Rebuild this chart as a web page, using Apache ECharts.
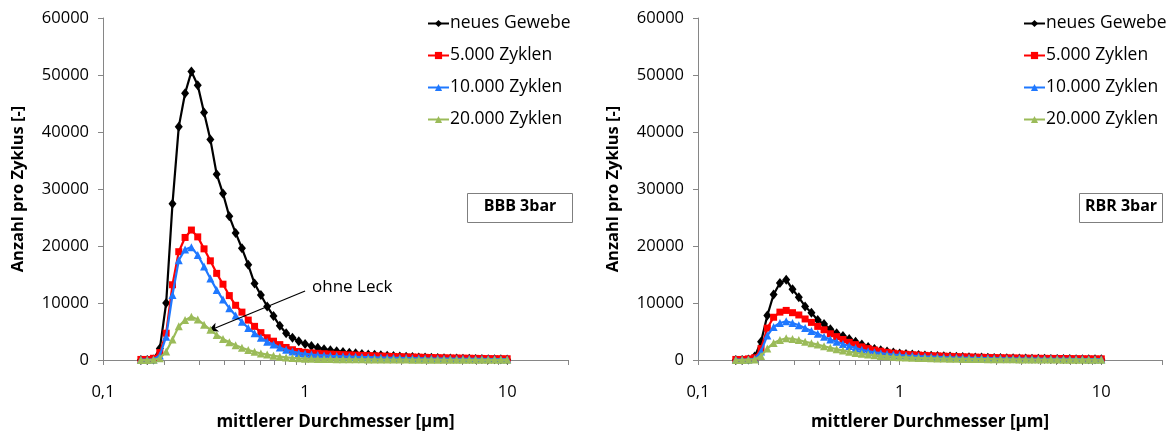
<!DOCTYPE html>
<html>
<head>
<meta charset="utf-8">
<script src="https://cdn.jsdelivr.net/npm/echarts@6/dist/echarts.min.js"></script>
<style>
  html, body { margin: 0; padding: 0; background: #ffffff; }
  #chart { width: 1176px; height: 433px; }
</style>
</head>
<body>
<div id="chart"></div>
<script>
// Mean particle diameter per size channel [µm] (32 channels per decade)
const diameters = [
  0.1540, 0.1655, 0.1778, 0.1911, 0.2054, 0.2207, 0.2371, 0.2548, 0.2738, 0.2943,
  0.3162, 0.3398, 0.3652, 0.3924, 0.4217, 0.4532, 0.4870, 0.5233, 0.5623, 0.6043,
  0.6494, 0.6978, 0.7499, 0.8058, 0.8660, 0.9306, 1.000, 1.075, 1.155, 1.241,
  1.334, 1.433, 1.540, 1.655, 1.778, 1.911, 2.054, 2.207, 2.371, 2.548,
  2.738, 2.943, 3.162, 3.398, 3.652, 3.924, 4.217, 4.532, 4.870, 5.233,
  5.623, 6.043, 6.494, 6.978, 7.499, 8.058, 8.660, 9.306, 10.00
];

const seriesNames = ['neues Gewebe', '5.000 Zyklen', '10.000 Zyklen', '20.000 Zyklen'];

// BBB 3bar – counts per cycle
const bbbNeu = [
  0, 0, 100, 2000, 10000, 27400, 40900, 46800, 50600, 48200,
  43400, 38700, 32600, 29200, 25200, 22300, 19600, 16700, 13400, 11400,
  9400, 7700, 6000, 4700, 3900, 3300,
  2800, 2450, 2150, 1900, 1700, 1550, 1400, 1280, 1170, 1070,
  980, 900, 820, 750, 680, 620, 560, 510, 460, 420,
  380, 340, 310, 280, 250, 220, 200, 180, 160, 140,
  120, 110, 100
];
const bbb5000 = [
  100, 100, 300, 1300, 4700, 13200, 19000, 21500, 22800, 21600,
  19500, 17400, 15200, 13300, 11300, 9600, 8400, 7000, 5900, 4800,
  3900, 3300, 2700, 2200, 1800, 1500,
  1350, 1250, 1170, 1100, 1040, 990, 940, 900, 860, 820,
  780, 740, 700, 660, 620, 590, 560, 530, 500, 470,
  440, 410, 390, 370, 350, 330, 310, 290, 270, 250,
  240, 230, 220
];
const bbb10000 = [
  50, 50, 100, 800, 4100, 11400, 17500, 19400, 19800, 18400,
  16400, 14300, 12300, 10600, 9100, 7800, 6700, 5600, 4700, 3900,
  3200, 2700, 2200, 1800, 1500, 1250,
  1080, 960, 870, 800, 740, 690, 640, 600, 560, 520,
  490, 460, 430, 400, 380, 360, 340, 320, 300, 280,
  265, 250, 240, 230, 220, 210, 200, 190, 180, 170,
  160, 150, 140
];
const bbb20000 = [
  0, 0, 50, 300, 1500, 3600, 5900, 7000, 7600, 7100,
  6200, 5300, 4400, 3700, 3100, 2600, 2150, 1750, 1450, 1150,
  950, 750, 580, 460, 360, 290,
  240, 210, 190, 170, 160, 150, 140, 130, 120, 110,
  100, 95, 90, 85, 80, 75, 70, 65, 60, 55,
  50, 50, 45, 45, 40, 40, 35, 35, 30, 30,
  30, 25, 25
];

// RBR 3bar – counts per cycle
const rbrNeu = [
  0, 0, 100, 600, 3200, 7800, 11500, 13500, 14100, 12400,
  11000, 9400, 8300, 7000, 6300, 5400, 4700, 4200, 3700, 3200,
  2700, 2300, 1950, 1700, 1500, 1300,
  1150, 1050, 960, 880, 810, 750, 700, 650, 600, 560,
  520, 480, 450, 420, 390, 360, 340, 320, 300, 280,
  260, 240, 220, 200, 190, 180, 170, 160, 150, 140,
  130, 120, 110
];
const rbr5000 = [
  100, 100, 200, 400, 2000, 5600, 7500, 8400, 8700, 8300,
  7900, 7200, 6600, 5900, 5300, 4600, 4100, 3600, 3100, 2700,
  2300, 2000, 1750, 1550, 1350, 1200,
  1080, 1000, 930, 870, 810, 760, 720, 680, 640, 600,
  570, 540, 510, 480, 450, 430, 410, 390, 370, 350,
  330, 310, 300, 290, 280, 270, 260, 250, 240, 230,
  220, 210, 200
];
const rbr10000 = [
  50, 50, 100, 200, 1500, 4300, 5800, 6500, 6800, 6500,
  6100, 5600, 5100, 4600, 4100, 3600, 3200, 2800, 2450, 2100,
  1800, 1550, 1350, 1200, 1050, 950,
  860, 790, 730, 670, 620, 580, 540, 500, 470, 440,
  410, 390, 370, 350, 330, 310, 290, 280, 270, 260,
  250, 240, 230, 220, 210, 200, 190, 180, 170, 160,
  150, 140, 130
];
const rbr20000 = [
  0, 0, 50, 100, 700, 2000, 3000, 3500, 3800, 3700,
  3500, 3200, 2950, 2700, 2400, 2150, 1900, 1650, 1450, 1250,
  1100, 950, 820, 720, 640, 570,
  500, 450, 400, 360, 330, 300, 270, 250, 230, 210,
  190, 180, 170, 160, 150, 140, 130, 120, 110, 100,
  95, 90, 85, 80, 75, 70, 65, 60, 55, 50,
  50, 45, 45
];

// Axis ticks and labels
const xTickValues = [0.1, 0.2, 0.3, 0.4, 0.5, 0.6, 0.7, 0.8, 0.9,
                     1, 2, 3, 4, 5, 6, 7, 8, 9, 10, 20];
const xLabelValues = [0.1, 1, 10];
const panelLabels = ['BBB 3bar', 'RBR 3bar'];

// "ohne Leck" arrow, in data coordinates of the left panel
const arrowFrom = [1.0, 12100];
const arrowTo = [0.331, 5090];

const X_MIN = 0.1, X_MAX = 20;
const FONT = "'Open Sans', 'Liberation Sans', sans-serif";
const AXIS_GREY = '#868686';
const styles = [
  { color: '#000000', symbol: 'diamond', size: [8, 10] },
  { color: '#ff0000', symbol: 'rect', size: 7 },
  { color: '#1f78ff', symbol: 'triangle', size: 8 },
  { color: '#9bbb59', symbol: 'triangle', size: 8 }
];

// Logarithmic diameter axis carrying the data and the decade labels
function xAxis(gridIndex) {
  return {
    type: 'log', logBase: 10, gridIndex: gridIndex, min: X_MIN, max: X_MAX,
    position: 'bottom',
    axisLine: { show: true, onZero: false, lineStyle: { color: AXIS_GREY, width: 1 } },
    axisTick: { show: false },
    minorTick: { show: false },
    splitLine: { show: false },
    axisLabel: {
      customValues: xLabelValues, margin: 24, fontSize: 16.5, color: '#000',
      fontFamily: FONT,
      formatter: v => String(v).replace('.', ',')
    },
    name: 'mittlerer Durchmesser [µm]', nameLocation: 'middle', nameGap: 54,
    nameTextStyle: { fontSize: 17, fontWeight: 'bold', color: '#000', fontFamily: FONT }
  };
}

// Companion axis in log10 units that only draws the 1-2-...-9 tick marks
function tickAxis(gridIndex) {
  return {
    type: 'value', gridIndex: gridIndex, position: 'bottom',
    min: Math.log10(X_MIN), max: Math.log10(X_MAX),
    axisLine: { show: false, onZero: false },
    axisLabel: { show: false },
    splitLine: { show: false },
    axisTick: { show: true, length: 5, customValues: xTickValues.map(Math.log10),
                lineStyle: { color: AXIS_GREY, width: 1 } }
  };
}

function yAxis(gridIndex) {
  return {
    type: 'value', gridIndex: gridIndex, min: 0, max: 60000, interval: 10000,
    position: 'left',
    axisLine: { show: true, onZero: false, lineStyle: { color: AXIS_GREY, width: 1 } },
    axisTick: { show: true, length: 5, lineStyle: { color: AXIS_GREY } },
    splitLine: { show: false },
    axisLabel: { margin: 14, fontSize: 16.5, color: '#000', fontFamily: FONT,
                 formatter: v => String(v) },
    name: 'Anzahl pro Zyklus [-]', nameLocation: 'middle', nameGap: 76, nameRotate: 90,
    nameTextStyle: { fontSize: 16.5, fontWeight: 'bold', color: '#000', fontFamily: FONT }
  };
}

function lineSeries(name, values, axisIndex, idx) {
  const s = styles[idx];
  return {
    type: 'line', name: name, xAxisIndex: axisIndex, yAxisIndex: axisIndex,
    data: diameters.map((d, i) => [d, values[i]]),
    symbol: s.symbol, symbolSize: s.size, showSymbol: true,
    lineStyle: { color: s.color, width: 2.2 },
    itemStyle: { color: s.color, borderWidth: 0 },
    z: 2 + idx, animation: false, silent: true
  };
}

function legend(left) {
  return {
    left: left, top: 9, orient: 'vertical', data: seriesNames,
    itemWidth: 21, itemHeight: 9, itemGap: 13, selectedMode: false,
    textStyle: { fontSize: 17.5, lineHeight: 19, color: '#000', fontFamily: FONT, padding: [0, 0, 0, -4] }
  };
}

const leftSeries = [bbbNeu, bbb5000, bbb10000, bbb20000]
  .map((v, i) => lineSeries(seriesNames[i], v, 0, i));
const rightSeries = [rbrNeu, rbr5000, rbr10000, rbr20000]
  .map((v, i) => lineSeries(seriesNames[i], v, 1, i));

leftSeries[3].markLine = {
  silent: true, symbol: ['none', 'arrow'], symbolSize: [7, 10],
  lineStyle: { color: '#000', width: 1.2, type: 'solid' },
  label: { show: false },
  data: [[{ coord: arrowFrom }, { coord: arrowTo }]]
};

function panelBox(x, y, w, h, text) {
  return {
    type: 'group', left: x, top: y,
    children: [
      { type: 'rect', shape: { x: 0, y: 0, width: w, height: h },
        style: { fill: '#fff', stroke: '#7f7f7f', lineWidth: 1 } },
      { type: 'text', x: w / 2, y: h / 2 - 2,
        style: { text: text, fill: '#000', font: 'bold 16px ' + FONT,
                 textAlign: 'center', textVerticalAlign: 'middle' } }
    ]
  };
}

const chart = echarts.init(document.getElementById('chart'), null, { renderer: 'canvas' });
chart.setOption({
  animation: false,
  backgroundColor: '#ffffff',
  grid: [
    { left: 103, top: 18, width: 465, height: 342, outerBoundsMode: 'none', containLabel: false },
    { left: 698, top: 18, width: 464, height: 342, outerBoundsMode: 'none', containLabel: false }
  ],
  xAxis: [xAxis(0), xAxis(1), tickAxis(0), tickAxis(1)],
  yAxis: [yAxis(0), yAxis(1)],
  legend: [legend(422), legend(1018)],
  series: leftSeries.concat(rightSeries),
  graphic: [
    panelBox(467, 193, 105, 29, panelLabels[0]),
    panelBox(1079, 193, 83, 29, panelLabels[1]),
    { type: 'text', left: 312, top: 279,
      style: { text: 'ohne Leck', fill: '#000', font: '17px ' + FONT } }
  ]
});
</script>
</body>
</html>
